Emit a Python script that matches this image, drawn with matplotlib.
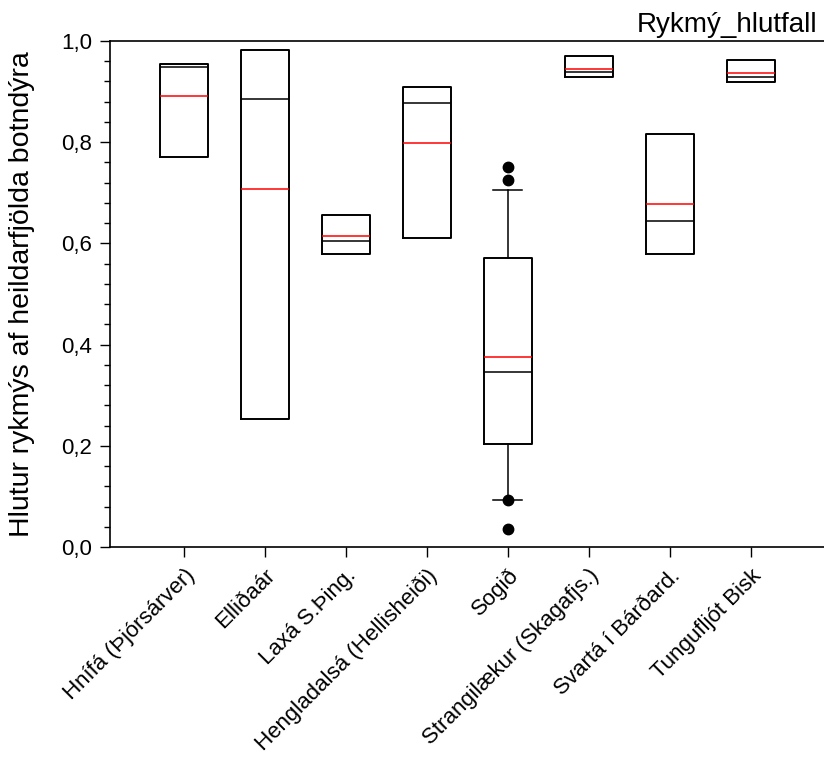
import numpy as np
import matplotlib
matplotlib.use("Agg")
import matplotlib.pyplot as plt
from matplotlib.ticker import MultipleLocator, FuncFormatter

plt.rcParams['font.family'] = ['Liberation Sans', 'DejaVu Sans']

# Data
sites = ["Hnífá (Þjórsárver)", "Elliðaár", "Laxá S.Þing.", "Hengladalsá (Hellisheiði)",
         "Sogið", "Strangilækur (Skagafjs.)", "Svartá í Bárðard.", "Tungufljót Bisk"]
q1 = [0.771, 0.253, 0.580, 0.611, 0.204, 0.928, 0.579, 0.919]
median = [0.949, 0.885, 0.605, 0.877, 0.346, 0.939, 0.644, 0.929]
q3 = [0.955, 0.982, 0.656, 0.909, 0.571, 0.971, 0.817, 0.962]
mean = [0.891, 0.707, 0.614, 0.798, 0.376, 0.945, 0.678, 0.937]
whislo = [0.771, 0.253, 0.580, 0.611, 0.093, 0.928, 0.579, 0.919]
whishi = [0.955, 0.982, 0.656, 0.909, 0.706, 0.971, 0.817, 0.962]
fliers = [[], [], [], [], [0.036, 0.093, 0.725, 0.751], [], [], []]

stats = []
for i in range(len(sites)):
    stats.append(dict(med=median[i], q1=q1[i], q3=q3[i], mean=mean[i],
                      whislo=whislo[i], whishi=whishi[i], fliers=fliers[i]))

fig = plt.figure(figsize=(8.24, 7.59), dpi=100)
ax = fig.add_axes([110 / 824, 1 - 547 / 759, 716 / 824, 506 / 759])

bp = ax.bxp(stats, positions=np.arange(1, 9), widths=0.59, showmeans=True, meanline=True,
            boxprops=dict(color="black", linewidth=1.4),
            medianprops=dict(color="black", linewidth=1.1),
            meanprops=dict(color="red", linestyle="-", linewidth=1.1),
            whiskerprops=dict(color="black", linewidth=1.1),
            capprops=dict(color="black", linewidth=1.1),
            flierprops=dict(marker="o", markerfacecolor="black", markeredgecolor="black",
                            markersize=7.5),
            capwidths=0.36)
# caps only where whiskers actually extend
for i, cap in enumerate(bp["caps"]):
    if fliers[i // 2] == []:
        cap.set_visible(False)

ax.set_xlim(0.085, 8.93)
ax.set_ylim(0, 1.0)
ax.yaxis.set_major_locator(MultipleLocator(0.2))
ax.yaxis.set_minor_locator(MultipleLocator(0.04))
ax.yaxis.set_major_formatter(FuncFormatter(lambda v, p: f"{v:.1f}".replace(".", ",")))
ax.tick_params(axis="y", which="major", length=7, width=1, labelsize=16, direction="out", pad=6)
ax.tick_params(axis="y", which="minor", length=4, width=1, direction="out")
ax.tick_params(axis="x", length=7, width=1, labelsize=16, direction="out", pad=6)
ax.set_xticks(np.arange(1, 9))
ax.set_xticklabels(sites, rotation=45, ha="right", rotation_mode="anchor")

ax.spines["right"].set_visible(False)
for s in ["left", "bottom", "top"]:
    ax.spines[s].set_linewidth(1.2)

ax.set_ylabel("Hlutur rykmýs af heildarfjölda botndýra", fontsize=20.5, labelpad=16)
ax.yaxis.set_label_coords(-0.105, 0.5)
fig.text(817 / 824, 1 - 32 / 759, "Rykmý_hlutfall", ha="right", va="baseline", fontsize=20)

fig.savefig("out.png", dpi=100)
